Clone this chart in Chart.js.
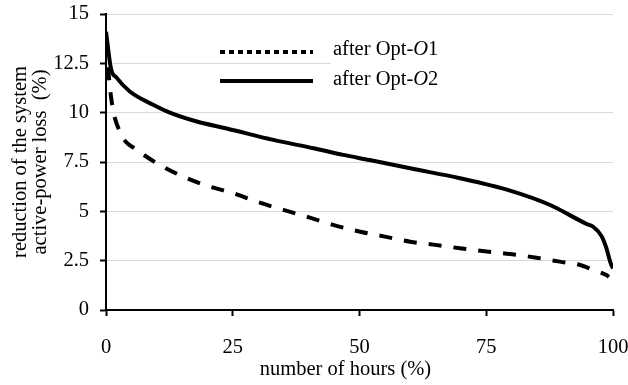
<!DOCTYPE html>
<html>
<head>
<meta charset="utf-8">
<script src="https://cdn.jsdelivr.net/npm/chart.js@4"></script>
<style>
  body { margin: 0; background: #fff; }
  #wrap { width: 628px; height: 385px; }
</style>
</head>
<body>
<div id="wrap"><canvas id="lossChart" width="628" height="385"></canvas></div>
<script>
// number of hours (%) and loss reduction (%)
const hoursO1 = [0.4, 0.8, 1.5, 2.8, 4.0, 5.3, 9.3, 15.2, 19.9, 25.1, 29.7, 35, 40.2, 44.8, 50.4, 55, 60, 64.9, 69.8, 75.1, 79.7, 84.9, 89.5, 93.5, 96.1, 98.7, 99.2];
const lossO1  = [12.3, 11.2, 10.0, 9.0, 8.5, 8.25, 7.55, 6.76, 6.3, 5.92, 5.49, 5.07, 4.68, 4.31, 3.95, 3.72, 3.46, 3.3, 3.13, 2.96, 2.84, 2.65, 2.45, 2.28, 2.03, 1.77, 1.68];

const hoursO2 = [0, 1.0, 2.0, 4.7, 9.3, 12.6, 17.9, 23.8, 33, 40.9, 46.8, 52, 60, 69.8, 79.7, 87.6, 94.8, 96.1, 97.8, 98.7, 99.5, 100];
const lossO2  = [14.1, 12.2, 11.8, 11.07, 10.4, 10.0, 9.55, 9.2, 8.62, 8.2, 7.86, 7.6, 7.18, 6.68, 6.05, 5.32, 4.36, 4.22, 3.72, 3.13, 2.4, 2.1];

const seriesLabels = ['after Opt-', 'after Opt-'];
const seriesSuffix = ['1', '2'];
const xTicks = [0, 25, 50, 75, 100];
const yTitle = ['reduction of the system', 'active-power loss  (%)'];
const xTitle = 'number of hours (%)';

const serif = 'Liberation Serif';
const fontSize = 20.5;

const toPoints = (xs, ys) => xs.map((x, i) => ({ x: x, y: ys[i] }));

// legend + x title drawn by hand (legend needs the italic O)
const legendPlugin = {
    id: 'customLegend',
    afterDraw(chart) {
        const ctx = chart.ctx;
        const area = chart.chartArea;
        ctx.save();
        ctx.fillStyle = '#fff';
        ctx.fillRect(331, 36, 297, 58);

        const rows = [
            { y: 52, dash: [5, 4], text: 54.5 },
            { y: 81, dash: [], text: 85 }
        ];
        rows.forEach((r, i) => {
            ctx.beginPath();
            ctx.setLineDash(r.dash);
            ctx.lineWidth = 4;
            ctx.strokeStyle = '#000';
            ctx.moveTo(220, r.y);
            ctx.lineTo(313, r.y);
            ctx.stroke();
            ctx.setLineDash([]);

            ctx.fillStyle = '#000';
            ctx.textAlign = 'left';
            ctx.textBaseline = 'alphabetic';
            let x = 333;
            ctx.font = fontSize + 'px "' + serif + '"';
            ctx.fillText(seriesLabels[i], x, r.text);
            x += ctx.measureText(seriesLabels[i]).width;
            ctx.font = 'italic ' + fontSize + 'px "' + serif + '"';
            ctx.fillText('O', x, r.text);
            x += ctx.measureText('O').width;
            ctx.font = fontSize + 'px "' + serif + '"';
            ctx.fillText(seriesSuffix[i], x, r.text);
        });

        // axis title sits a little left of the plot centre in the original
        ctx.font = fontSize + 'px "' + serif + '"';
        ctx.textAlign = 'center';
        ctx.textBaseline = 'middle';
        ctx.fillText(xTitle, (area.left + area.right) / 2 - 14, 370);
        ctx.restore();
    }
};

const ctx = document.getElementById('lossChart').getContext('2d');
new Chart(ctx, {
    type: 'line',
    data: {
        datasets: [{
            label: 'after Opt-O1',
            data: toPoints(hoursO1, lossO1),
            borderColor: '#000',
            borderWidth: 4,
            borderDash: [13, 12],
            pointRadius: 0,
            cubicInterpolationMode: 'monotone',
            fill: false
        }, {
            label: 'after Opt-O2',
            data: toPoints(hoursO2, lossO2),
            borderColor: '#000',
            borderWidth: 4,
            pointRadius: 0,
            cubicInterpolationMode: 'monotone',
            fill: false
        }]
    },
    options: {
        responsive: false,
        animation: false,
        devicePixelRatio: 1,
        layout: { padding: { top: 14, right: 15, left: 0, bottom: 0 } },
        plugins: {
            legend: { display: false },
            tooltip: { enabled: false }
        },
        scales: {
            x: {
                type: 'linear',
                min: 0,
                max: 100,
                afterFit: s => { s.height = 75; s.paddingLeft = 0; s.paddingRight = 0; },
                afterBuildTicks: s => { s.ticks = xTicks.map(v => ({ value: v })); },
                ticks: { color: '#000', font: { family: serif, size: fontSize }, padding: 19, maxRotation: 0 },
                grid: { drawOnChartArea: false, tickLength: 6, tickColor: '#000', tickWidth: 2 },
                border: { color: '#000', width: 2 }
            },
            y: {
                min: 0,
                max: 15,
                afterFit: s => { s.width = 106; s.paddingTop = 0; s.paddingBottom = 0; },
                ticks: { stepSize: 2.5, color: '#000', font: { family: serif, size: fontSize }, padding: 11 },
                grid: { color: '#d9d9d9', lineWidth: 1, tickLength: 6, tickColor: '#000', tickWidth: 2 },
                border: { color: '#000', width: 2 },
                title: { display: true, text: yTitle, color: '#000', font: { family: serif, size: fontSize, lineHeight: 0.95 }, padding: { top: 11, bottom: 0 } }
            }
        }
    },
    plugins: [legendPlugin]
});
</script>
</body>
</html>
